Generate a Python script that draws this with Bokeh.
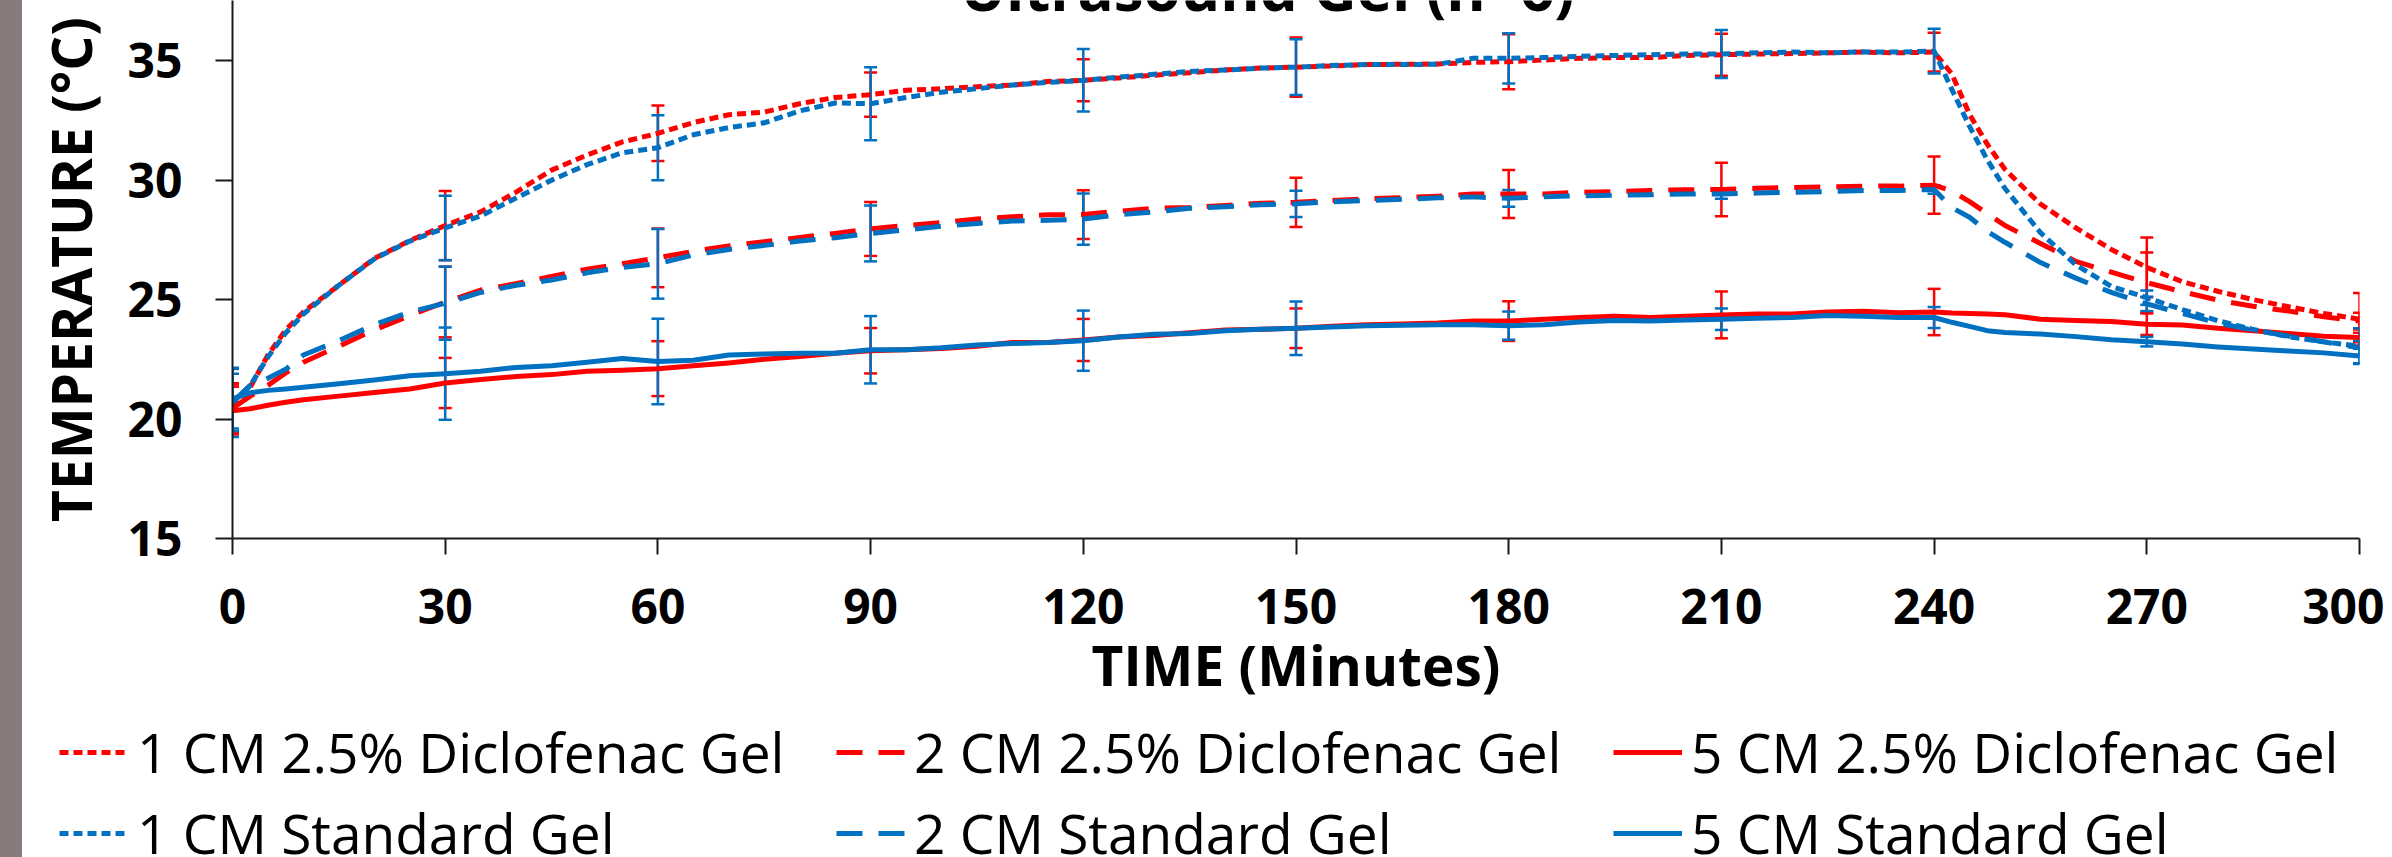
from bokeh.plotting import figure
from bokeh.models import (Range1d, Legend, LegendItem, ColumnDataSource, Whisker,
                          TeeHead, Label, Div, FixedTicker, Spacer)
from bokeh.layouts import row, column
from bokeh.embed import file_html
from bokeh.resources import INLINE

# ---------------- data ----------------
time_min = [0, 2.5, 5, 7.5, 10, 15, 20, 25, 30, 35, 40, 45, 50, 55, 60, 65, 70, 75, 80, 85,
            90, 95, 100, 105, 110, 115, 120, 125, 130, 135, 140, 145, 150, 155, 160, 165, 170,
            175, 180, 185, 190, 195, 200, 205, 210, 215, 220, 225, 230, 235, 240, 242.5, 245,
            247.5, 250, 255, 260, 265, 270, 275, 280, 285, 290, 295, 300]

cm1_diclofenac = [20.45, 21.33, 22.68, 23.73, 24.48, 25.6, 26.72, 27.47, 28.1, 28.67, 29.5, 30.42,
                  31.05, 31.6, 31.96, 32.41, 32.74, 32.85, 33.2, 33.46, 33.58, 33.76, 33.83, 33.91,
                  33.98, 34.13, 34.18, 34.28, 34.39, 34.5, 34.61, 34.69, 34.73, 34.78, 34.84, 34.85,
                  34.86, 34.93, 34.96, 35.03, 35.1, 35.13, 35.13, 35.22, 35.25, 35.28, 35.3, 35.33,
                  35.36, 35.33, 35.36, 34.45, 32.75, 31.5, 30.45, 29.0, 28.0, 27.1, 26.35, 25.75,
                  25.35, 25.0, 24.7, 24.42, 24.18]
cm2_diclofenac = [20.45, 20.96, 21.41, 21.93, 22.38, 23.05, 23.73, 24.33, 24.9, 25.4, 25.67, 25.97,
                  26.27, 26.5, 26.75, 27.02, 27.25, 27.42, 27.6, 27.77, 27.96, 28.1, 28.22, 28.37,
                  28.47, 28.55, 28.56, 28.7, 28.82, 28.86, 28.94, 29.03, 29.07, 29.15, 29.22, 29.27,
                  29.33, 29.42, 29.42, 29.42, 29.49, 29.52, 29.57, 29.6, 29.61, 29.66, 29.69, 29.72,
                  29.75, 29.75, 29.79, 29.55, 29.1, 28.6, 28.1, 27.35, 26.6, 26.15, 25.71, 25.33,
                  24.98, 24.72, 24.52, 24.28, 24.1]
cm5_diclofenac = [20.35, 20.43, 20.58, 20.7, 20.81, 20.96, 21.11, 21.26, 21.51, 21.66, 21.78, 21.86,
                  22.0, 22.04, 22.11, 22.23, 22.35, 22.5, 22.62, 22.75, 22.86, 22.9, 22.95, 23.05,
                  23.2, 23.2, 23.31, 23.43, 23.5, 23.61, 23.73, 23.76, 23.8, 23.88, 23.95, 23.98,
                  24.02, 24.1, 24.1, 24.18, 24.25, 24.3, 24.25, 24.3, 24.36, 24.4, 24.4, 24.48,
                  24.51, 24.45, 24.48, 24.44, 24.42, 24.4, 24.37, 24.18, 24.13, 24.08, 23.97, 23.94,
                  23.8, 23.7, 23.58, 23.47, 23.41]
cm1_standard = [20.7, 21.4, 22.6, 23.6, 24.4, 25.6, 26.7, 27.45, 28.0, 28.5, 29.25, 30.0,
                30.65, 31.15, 31.36, 31.9, 32.2, 32.4, 32.9, 33.23, 33.2, 33.46, 33.68, 33.83,
                33.98, 34.09, 34.18, 34.31, 34.43, 34.55, 34.61, 34.69, 34.73, 34.8, 34.84, 34.84,
                34.85, 35.1, 35.1, 35.13, 35.18, 35.22, 35.25, 35.28, 35.28, 35.33, 35.36, 35.33,
                35.37, 35.36, 35.4, 33.8, 32.25, 30.85, 29.65, 27.8, 26.45, 25.55, 25.08, 24.58,
                24.12, 23.75, 23.45, 23.23, 23.05]
cm2_standard = [20.7, 21.41, 21.71, 22.08, 22.68, 23.28, 23.95, 24.48, 24.85, 25.3, 25.6, 25.82,
                26.12, 26.35, 26.5, 26.87, 27.1, 27.27, 27.45, 27.59, 27.77, 27.92, 28.07, 28.19,
                28.29, 28.32, 28.37, 28.55, 28.67, 28.82, 28.89, 28.97, 29.01, 29.09, 29.15, 29.2,
                29.26, 29.3, 29.24, 29.31, 29.34, 29.37, 29.39, 29.42, 29.42, 29.46, 29.49, 29.52,
                29.57, 29.57, 29.61, 28.85, 28.45, 27.85, 27.4, 26.55, 25.9, 25.3, 24.82, 24.42,
                24.02, 23.72, 23.47, 23.23, 22.98]
cm5_standard = [20.85, 21.1, 21.2, 21.26, 21.33, 21.48, 21.63, 21.81, 21.9, 22.0, 22.16, 22.23,
                22.38, 22.53, 22.41, 22.46, 22.68, 22.72, 22.75, 22.75, 22.9, 22.9, 22.98, 23.1,
                23.16, 23.2, 23.28, 23.43, 23.55, 23.58, 23.7, 23.76, 23.8, 23.85, 23.91, 23.93,
                23.95, 23.95, 23.91, 23.95, 24.06, 24.13, 24.1, 24.15, 24.18, 24.22, 24.25, 24.33,
                24.3, 24.25, 24.25, 24.05, 23.88, 23.7, 23.62, 23.56, 23.45, 23.32, 23.24, 23.14,
                23.02, 22.93, 22.85, 22.77, 22.64]

err_times = [0, 30, 60, 90, 120, 150, 180, 210, 240, 270, 300]
sd_cm1_diclofenac = [1.05, 1.45, 1.16, 0.93, 0.88, 1.24, 1.15, 0.88, 0.81, 1.25, 1.1]
sd_cm2_diclofenac = [1.0, 1.48, 1.23, 1.13, 1.02, 1.03, 1.0, 1.12, 1.2, 1.26, 0.35]
sd_cm5_diclofenac = [1.0, 1.05, 1.15, 0.95, 0.88, 0.83, 0.83, 0.98, 0.97, 0.45, 0.2]
sd_cm1_standard = [1.45, 1.35, 1.36, 1.53, 1.31, 1.17, 1.05, 1.0, 0.94, 0.3, 0.75]
sd_cm2_standard = [1.2, 1.53, 1.46, 1.17, 1.07, 0.55, 0.35, 0.2, 0.18, 0.3, 0.3]
sd_cm5_standard = [1.25, 1.93, 1.79, 1.41, 1.26, 1.12, 0.59, 0.45, 0.44, 0.2, 0.3]

labels = ["1 CM 2.5% Diclofenac Gel", "2 CM 2.5% Diclofenac Gel", "5 CM 2.5% Diclofenac Gel",
          "1 CM Standard Gel", "2 CM Standard Gel", "5 CM Standard Gel"]
x_ticks = [0, 30, 60, 90, 120, 150, 180, 210, 240, 270, 300]
y_ticks = [15, 20, 25, 30, 35]
title_text = "Ultrasound Gel (n=6)"

# ---------------- styling ----------------
RED = "#FF0000"
BLUE = "#0070C0"
FONT = "Open Sans"

p = figure(frame_width=2127, frame_height=538, output_backend="svg", toolbar_location=None,
           x_range=Range1d(0, 300), y_range=Range1d(15, 37.52),
           min_border_left=210, min_border_right=25, min_border_top=0, min_border_bottom=173)
p.outline_line_color = None
p.xgrid.visible = False
p.ygrid.visible = False
p.background_fill_color = "white"
p.border_fill_color = "white"

p.xaxis.ticker = FixedTicker(ticks=x_ticks)
p.yaxis.ticker = FixedTicker(ticks=y_ticks)
for ax in (p.xaxis[0], p.yaxis[0]):
    ax.axis_line_width = 2
    ax.axis_line_color = "#1a1a1a"
    ax.major_tick_line_width = 2
    ax.major_tick_line_color = "#1a1a1a"
    ax.major_tick_in = 0
    ax.minor_tick_line_color = None
    ax.major_label_text_font = FONT
    ax.major_label_text_font_style = "bold"
    ax.major_label_text_font_size = "48px"
    ax.major_label_text_color = "black"
    ax.axis_label_text_font = FONT
    ax.axis_label_text_font_style = "bold"
    ax.axis_label_text_font_size = "55px"
    ax.axis_label_text_color = "black"
p.xaxis.major_tick_out = 16
p.yaxis.major_tick_out = 17
p.xaxis.major_label_standoff = 34
p.yaxis.major_label_standoff = 33
p.xaxis.axis_label = "TIME (Minutes)"
p.yaxis.axis_label = "TEMPERATURE (°C)"
p.xaxis.axis_label_standoff = 0
p.yaxis.axis_label_standoff = 17

series = [
    (cm1_diclofenac, sd_cm1_diclofenac, RED, "9 5"),
    (cm2_diclofenac, sd_cm2_diclofenac, RED, "26 16"),
    (cm5_diclofenac, sd_cm5_diclofenac, RED, "solid"),
    (cm1_standard, sd_cm1_standard, BLUE, "9 5"),
    (cm2_standard, sd_cm2_standard, BLUE, "26 16"),
    (cm5_standard, sd_cm5_standard, BLUE, "solid"),
]

for (vals, sds, color, dash) in series:
    p.line(time_min, vals, line_color=color, line_width=5, line_dash=dash, line_join="round")

for (vals, sds, color, dash) in series:
    centers = [vals[time_min.index(t)] for t in err_times]
    src = ColumnDataSource(dict(t=err_times,
                                upper=[c + s for c, s in zip(centers, sds)],
                                lower=[c - s for c, s in zip(centers, sds)]))
    w = Whisker(source=src, base="t", upper="upper", lower="lower", dimension="height",
                line_color=color, line_width=2.5,
                upper_head=TeeHead(size=13, line_color=color, line_width=2.5),
                lower_head=TeeHead(size=13, line_color=color, line_width=2.5))
    p.add_layout(w)

# chart title, cut off by the top edge as in the reference
p.add_layout(Label(x=146, y=38.06, text=title_text, text_align="center",
                   text_baseline="alphabetic", text_font=FONT, text_font_style="bold",
                   text_font_size="60px", text_color="black"))

# ---------------- legend (separate strip below the chart) ----------------
# The strip's ranges lie outside the data, so its renderers only feed the legend glyphs.
lp = figure(width=2325, height=146, output_backend="svg", toolbar_location=None,
            x_range=Range1d(-2, -1), y_range=Range1d(-2, -1),
            x_axis_location=None, y_axis_location=None, min_border=0)
lp.outline_line_color = None
lp.background_fill_color = "white"
lp.border_fill_color = "white"
lp.grid.grid_line_color = None
items = []
for (vals, sds, color, dash), lab in zip(series, labels):
    r = lp.line(time_min, vals, line_color=color, line_width=5, line_dash=dash)
    items.append(LegendItem(label=lab, renderers=[r]))
legend = Legend(items=items, location="top_left", orientation="horizontal", ncols=3,
                glyph_width=69, glyph_height=20, label_standoff=9, label_width=699,
                label_height=81, spacing=0, padding=0, margin=0,
                border_line_color=None, background_fill_alpha=0,
                label_text_font=FONT, label_text_font_size="55px", label_text_color="black")
lp.add_layout(legend, "center")

bar = Div(width=22, height=857, margin=0,
          styles={"background-color": "#877b7b", "width": "22px", "height": "857px"})

layout = row(bar, column(p, row(Spacer(width=37, height=146), lp, spacing=0), spacing=0),
             spacing=0)
open("out.html", "w").write(file_html(layout, INLINE))
